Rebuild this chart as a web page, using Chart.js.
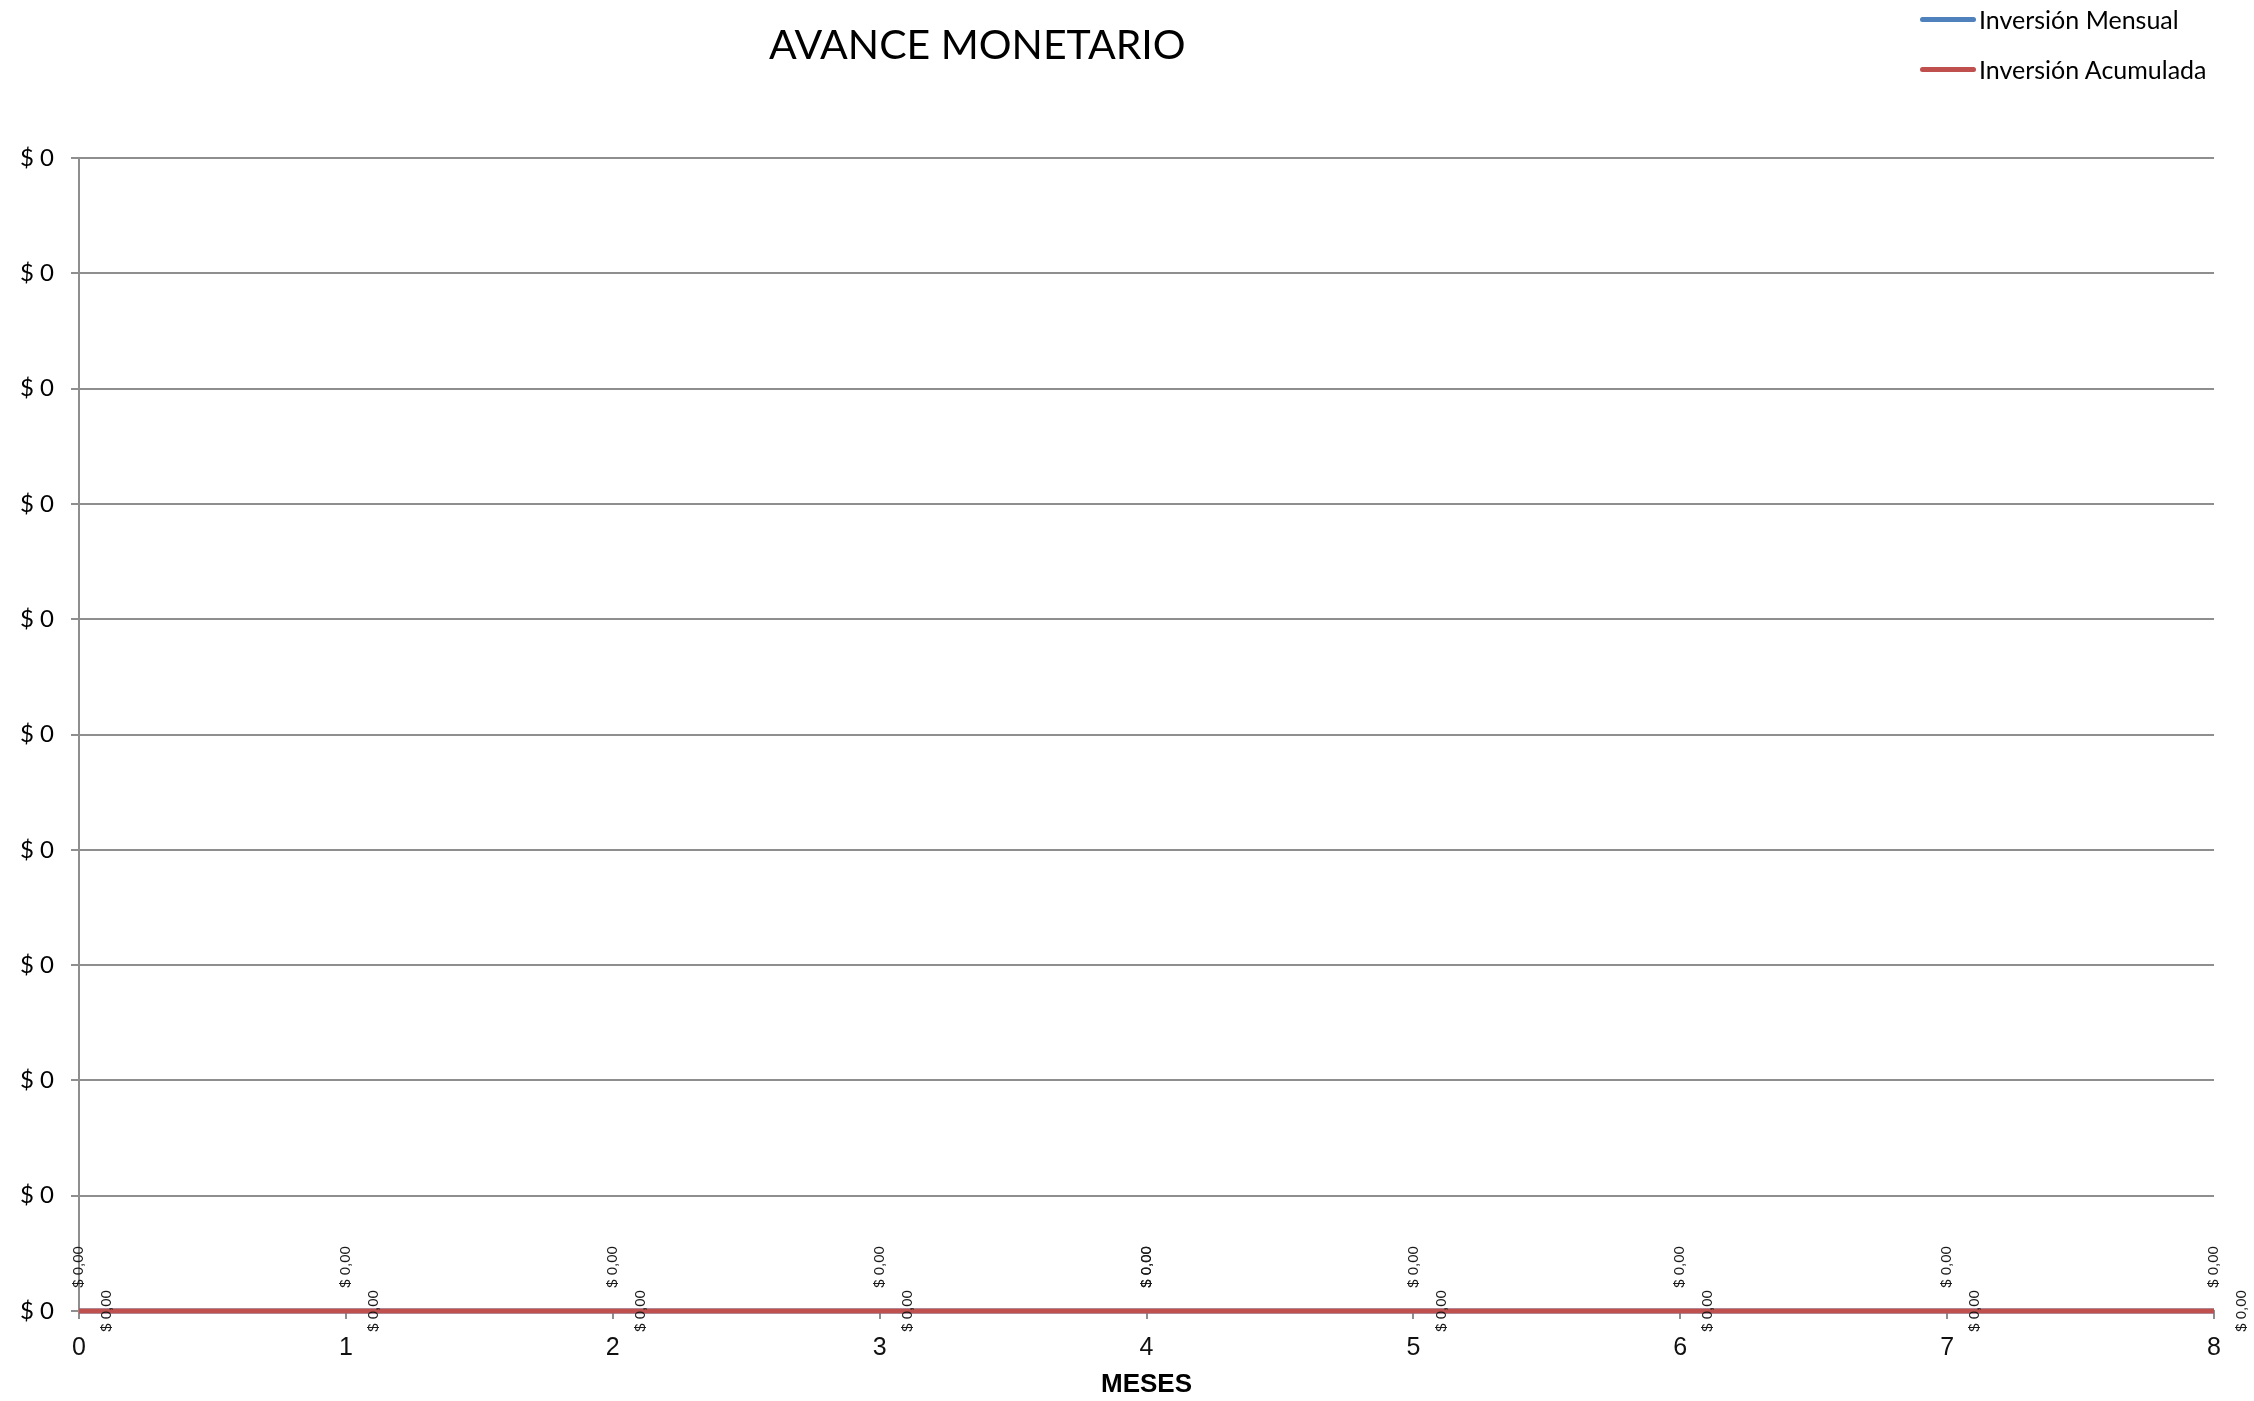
<!DOCTYPE html>
<html>
<head>
<meta charset="utf-8">
<script src="https://cdn.jsdelivr.net/npm/chart.js@4.4.0/dist/chart.umd.min.js"></script>
<style>
  html, body { margin: 0; padding: 0; background: #fff; }
  #wrap { position: relative; width: 2254px; height: 1401px; }
  #title { position: absolute; left: 769px; top: 19px; font: 41px Lato, sans-serif; color: #000; white-space: nowrap; }
  #legend { position: absolute; left: 1920px; top: -6px; font: 25px Lato, sans-serif; color: #000; }
  .item { display: flex; align-items: center; height: 50px; }
  .swatch { width: 56px; height: 5px; border-radius: 3px; margin-right: 3px; }
</style>
</head>
<body>
<div id="wrap">
  <canvas id="graph" width="2254" height="1401"></canvas>
  <div id="title">AVANCE MONETARIO</div>
  <div id="legend"></div>
</div>
<script>
// Datos del gráfico
const meses = [0, 1, 2, 3, 4, 5, 6, 7, 8];
const inversion_mensual = [0, 0, 0, 0, 0, 0, 0, 0, 0];
const inversion_acumulada = [0, 0, 0, 0, 0, 0, 0, 0, 0];
const series_labels = ['Inversión Mensual', 'Inversión Acumulada'];
const series_colors = ['#4F81BD', '#C0504D'];

function format_money(value) {
  return '$ ' + value.toFixed(2).replace('.', ',');
}

// Etiquetas de datos giradas (como en Excel)
const data_labels = {
  id: 'data_labels',
  afterDatasetsDraw(chart) {
    const ctx = chart.ctx;
    ctx.save();
    ctx.font = '15px "Liberation Sans", Arial, sans-serif';
    ctx.fillStyle = '#1a1a1a';
    ctx.textAlign = 'center';
    ctx.textBaseline = 'middle';
    chart.data.datasets.forEach((dataset, i) => {
      chart.getDatasetMeta(i).data.forEach((point, j) => {
        let dx = 0, dy = -44; // serie mensual: encima del punto
        if (i === 1 && j !== 4) { dx = 28; dy = 0; } // serie acumulada: a la derecha
        ctx.save();
        ctx.translate(point.x + dx, point.y + dy);
        ctx.rotate(-Math.PI / 2);
        ctx.fillText(format_money(dataset.data[j].y), 0, 0);
        ctx.restore();
      });
    });
    ctx.restore();
  }
};

const context = document.getElementById('graph').getContext('2d');
const graph = new Chart(context, {
  type: 'line',
  data: {
    datasets: [
      {
        label: series_labels[0],
        data: meses.map((m, i) => ({ x: m, y: inversion_mensual[i] })),
        borderColor: series_colors[0],
        borderWidth: 5,
        pointRadius: 0,
        tension: 0,
        clip: false,
        order: 1
      },
      {
        label: series_labels[1],
        data: meses.map((m, i) => ({ x: m, y: inversion_acumulada[i] })),
        borderColor: series_colors[1],
        borderWidth: 5,
        pointRadius: 0,
        tension: 0,
        clip: false,
        order: 0 // la acumulada queda encima
      }
    ]
  },
  options: {
    responsive: false,
    animation: false,
    layout: { padding: { top: 158, right: 40, left: 0, bottom: 0 } },
    plugins: { legend: { display: false }, title: { display: false }, tooltip: { enabled: false } },
    scales: {
      x: {
        type: 'linear',
        min: 0,
        max: 8,
        afterFit: scale => { scale.height = 90; },
        ticks: {
          stepSize: 1,
          padding: 14,
          color: '#111',
          font: { family: '"Liberation Sans", Arial, sans-serif', size: 25 }
        },
        grid: { drawOnChartArea: false, drawTicks: true, tickLength: 8, color: '#8E8E8E', lineWidth: 2 },
        border: { color: '#8E8E8E', width: 2 },
        title: {
          display: true,
          text: 'MESES',
          color: '#000',
          padding: { top: 0, bottom: 1 },
          font: { family: '"Liberation Sans", Arial, sans-serif', size: 26, weight: 'bold' }
        }
      },
      y: {
        min: 0,
        max: 0.001,
        afterFit: scale => { scale.width = 79; },
        ticks: {
          stepSize: 0.0001,
          padding: 17,
          color: '#000',
          font: { family: 'Lato, sans-serif', size: 24 },
          callback: value => '$ ' + Math.round(value)
        },
        grid: { color: '#8E8E8E', lineWidth: 2, tickLength: 8 },
        border: { color: '#8E8E8E', width: 2 }
      }
    }
  },
  plugins: [data_labels]
});

// Leyenda en HTML
const legend = document.getElementById('legend');
series_labels.forEach((label, i) => {
  const item = document.createElement('div');
  item.className = 'item';
  item.innerHTML = '<span class="swatch" style="background:' + series_colors[i] + '"></span>' + label;
  legend.appendChild(item);
});
</script>
</body>
</html>
